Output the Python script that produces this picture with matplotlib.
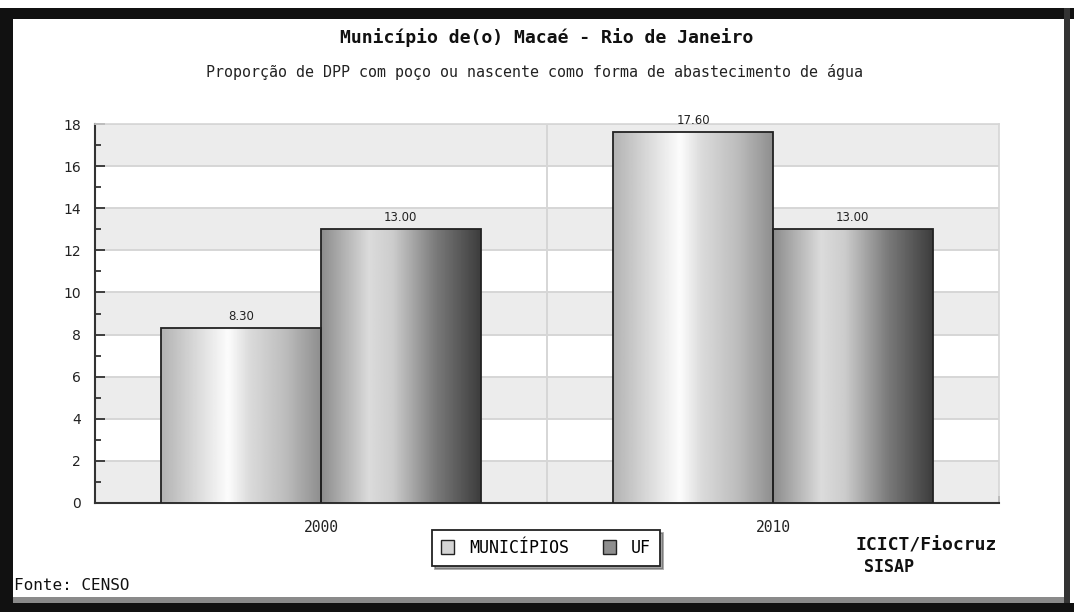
import matplotlib
matplotlib.use("Agg")
import matplotlib.pyplot as plt
from matplotlib.patches import Rectangle, Patch
import numpy as np

# data
anos = ["2000", "2010"]
municipios = [8.30, 17.60]
uf = [13.00, 13.00]
series_names = ["MUNICÍPIOS", "UF"]

titulo = "Município de(o) Macaé - Rio de Janeiro"
subtitulo = "Proporção de DPP com poço ou nascente como forma de abastecimento de água"

W, H = 1074, 612
fig = plt.figure(figsize=(W / 100, H / 100), dpi=100)
fig.patch.set_facecolor("white")

ax = fig.add_axes([95 / W, 1 - 503 / H, (999 - 95) / W, (503 - 124) / H])
ax.set_facecolor("white")

mono = "DejaVu Sans Mono"

# gradient profiles (gray level across bar width)
def gradient(stops):
    xs = np.linspace(0, 1, 200)
    pos = [s[0] for s in stops]
    val = [s[1] for s in stops]
    return np.interp(xs, pos, val)[None, :]

grad_mun = gradient([(0, 0.70), (0.2, 0.84), (0.42, 0.99), (0.55, 0.86),
                     (0.78, 0.74), (1.0, 0.56)])
grad_uf = gradient([(0, 0.55), (0.3, 0.86), (0.45, 0.80), (0.72, 0.48),
                    (1.0, 0.24)])

x = np.arange(len(anos))
w = 0.353
bars1 = ax.bar(x - w / 2, municipios, w, facecolor="none", edgecolor="#222222",
               linewidth=1.3, zorder=4)
bars2 = ax.bar(x + w / 2, uf, w, facecolor="none", edgecolor="#222222",
               linewidth=1.3, zorder=4)

for bars, g in ((bars1, grad_mun), (bars2, grad_uf)):
    for b in bars:
        x0 = b.get_x()
        ax.imshow(g, extent=[x0, x0 + b.get_width(), 0, b.get_height()],
                  aspect="auto", cmap="gray", vmin=0, vmax=1, zorder=3,
                  interpolation="bilinear")
    for b in bars:
        ax.text(b.get_x() + b.get_width() / 2, b.get_height() + 0.25,
                f"{b.get_height():.2f}", ha="center", va="bottom",
                fontsize=8.5, color="#222222", zorder=5)

ax.set_xlim(-0.5, 1.5)
ax.set_ylim(0, 18)

# alternating bands
for y0 in range(0, 18, 4):
    ax.axhspan(y0, y0 + 2, color="#ececec", zorder=0, lw=0)
for y0 in range(2, 19, 2):
    ax.axhline(y0, color="#d6d6d6", lw=1.4, zorder=1)
ax.axvline(0.5, color="#d6d6d6", lw=1.4, zorder=1)

ax.set_yticks(range(0, 19, 2))
ax.set_yticks(range(1, 18, 2), minor=True)
ax.tick_params(axis="y", which="major", direction="in", length=7, width=1.3,
               color="#333333", labelsize=10, pad=10, labelcolor="#222222")
ax.tick_params(axis="y", which="minor", direction="in", length=4, width=1.3,
               color="#333333")
ax.set_xticks(x)
ax.set_xticklabels(anos, fontfamily=mono, fontsize=10.5, color="#222222")
ax.tick_params(axis="x", which="major", length=0, pad=12)
ax.set_xticks([-0.5, 1.5], minor=True)
ax.tick_params(axis="x", which="minor", direction="in", length=5, width=1.3,
               color="#333333")

for s in ("left", "bottom"):
    ax.spines[s].set_color("#333333")
    ax.spines[s].set_linewidth(1.5)
for s in ("top", "right"):
    ax.spines[s].set_color("#d6d6d6")
    ax.spines[s].set_linewidth(1.2)

# titles
fig.text(547 / W, 1 - 38 / H, titulo, ha="center", va="center",
         fontfamily=mono, fontweight="bold", fontsize=13.1, color="#111111")
fig.text(535 / W, 1 - 72 / H, subtitulo, ha="center", va="center",
         fontfamily=mono, fontsize=10.8, color="#222222")

# legend
handles = [Patch(facecolor="#d4d4d4", edgecolor="#222222", label=series_names[0]),
           Patch(facecolor="#8e8e8e", edgecolor="#222222", label=series_names[1])]
leg = fig.legend(handles=handles, loc="center", bbox_to_anchor=(546 / W, 1 - 548 / H),
                 ncol=2, frameon=True, fancybox=False, shadow=True,
                 prop={"family": mono, "size": 12}, handlelength=0.8,
                 handleheight=0.9, columnspacing=2.0, borderpad=0.55,
                 handletextpad=0.9)
leg.get_frame().set_edgecolor("#222222")
leg.get_frame().set_linewidth(1.3)

fig.text(926 / W, 1 - 545 / H, "ICICT/Fiocruz", ha="center", va="center",
         fontfamily=mono, fontweight="bold", fontsize=13, color="#111111")
fig.text(864 / W, 1 - 567 / H, "SISAP", ha="left", va="center",
         fontfamily=mono, fontweight="bold", fontsize=12, color="#111111")
fig.text(14 / W, 1 - 585 / H, "Fonte: CENSO", ha="left", va="center",
         fontfamily=mono, fontsize=11.5, color="#111111")

# outer frame of the screenshot
def px_rect(x0, y0, x1, y1, color):
    fig.add_artist(Rectangle((x0 / W, 1 - y1 / H), (x1 - x0) / W, (y1 - y0) / H,
                             transform=fig.transFigure, facecolor=color,
                             edgecolor="none", zorder=10))

px_rect(5, 8, W, 19, "#111111")
px_rect(0, 8, 13, H, "#111111")
px_rect(1064, 8, 1070, H, "#333333")
px_rect(13, 597, 1064, 603, "#8a8a8a")
px_rect(0, 603, W, H, "#111111")

fig.savefig("out.png", dpi=100)
